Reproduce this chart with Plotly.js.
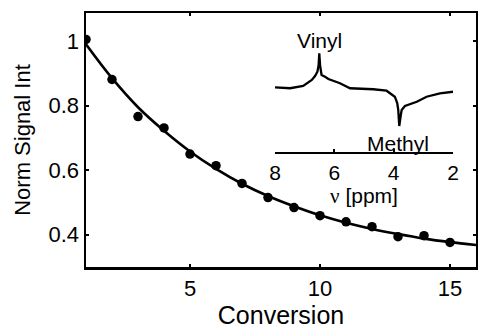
<!DOCTYPE html>
<html>
<head>
<meta charset="utf-8">
<script src="https://cdn.plot.ly/plotly-3.0.1.min.js"></script>
<style>html,body{margin:0;padding:0;background:#fff;}#chart{width:478px;height:329px;}</style>
</head>
<body>
<div id="chart"></div>
<script>
// Measured data points
const conversion = [1,2,3,4,5,6,7,8,9,10,11,12,13,14,15];
const signal = [1.005,0.881,0.766,0.731,0.650,0.614,0.559,0.515,0.484,0.459,0.440,0.425,0.394,0.397,0.376];
// Fit curve
const fitX = [1,2,3,4,5,6,7,8,9,10,11,12,13,14,15,16];
const fitY = [0.99,0.885,0.795,0.722,0.658,0.604,0.558,0.520,0.488,0.460,0.437,0.418,0.402,0.388,0.377,0.368];
// Inset spectrum (ppm, relative intensity)
const ppm = [8.0,7.49,7.05,6.76,6.65,6.57,6.53,6.507,6.48,6.43,6.30,6.20,5.81,5.47,4.69,4.24,3.96,3.88,3.845,3.811,3.76,3.73,3.62,3.22,2.89,2.44,1.99];
const spec = [0.634,0.625,0.647,0.706,0.745,0.787,0.85,0.968,0.85,0.755,0.735,0.716,0.674,0.625,0.615,0.601,0.542,0.48,0.412,0.255,0.36,0.412,0.451,0.493,0.542,0.575,0.591];
const xTicks = [5,10,15];
const yTicks = [0.4,0.6,0.8,1];
const yTickText = ['0.4','0.6','0.8','1'];
const insetTicks = [8,6,4,2];

const font = 'Liberation Sans, Arial, sans-serif';
const traces = [
  {x: fitX, y: fitY, mode: 'lines', line: {color: '#000', width: 2.6, shape: 'spline'}, xaxis: 'x', yaxis: 'y', hoverinfo: 'skip'},
  {x: conversion, y: signal, mode: 'markers', marker: {color: '#000', size: 9.5}, xaxis: 'x', yaxis: 'y'},
  {x: ppm, y: spec, mode: 'lines', line: {color: '#000', width: 2.3}, xaxis: 'x2', yaxis: 'y2'}
];
const layout = {
  width: 478, height: 329,
  margin: {l: 86, r: 2, t: 13, b: 62},
  paper_bgcolor: '#fff', plot_bgcolor: '#fff',
  showlegend: false,
  font: {family: font, size: 20, color: '#000'},
  xaxis: {
    range: [1, 16], domain: [0, 1],
    tickvals: xTicks, ticktext: xTicks.map(String),
    showline: true, linecolor: '#000', linewidth: 2.5, mirror: 'ticks',
    ticks: 'inside', ticklen: 3, tickwidth: 2, tickcolor: '#000',
    showgrid: false, zeroline: false,
    tickfont: {family: font, size: 22},
    title: {text: 'Conversion', font: {family: font, size: 25}, standoff: 10},
    automargin: false
  },
  yaxis: {
    range: [0.30, 1.087], domain: [0, 1],
    tickvals: yTicks, ticktext: yTickText,
    showline: true, linecolor: '#000', linewidth: 2.5, mirror: 'ticks',
    ticks: 'inside', ticklen: 3, tickwidth: 2, tickcolor: '#000',
    showgrid: false, zeroline: false,
    tickfont: {family: font, size: 22},
    title: {text: 'Norm Signal Int', font: {family: font, size: 22}, standoff: 12},
    automargin: false
  },
  xaxis2: {
    anchor: 'y2', domain: [0.4846, 0.941], range: [8, 2],
    tickvals: insetTicks, ticktext: insetTicks.map(String),
    showline: true, linecolor: '#000', linewidth: 2.5,
    ticks: 'inside', ticklen: 3, tickwidth: 2, tickcolor: '#000',
    showgrid: false, zeroline: false,
    tickfont: {family: font, size: 21},
    title: {text: '<span style="font-family:Liberation Serif, Times New Roman, serif">ν</span> [ppm]', font: {family: font, size: 21}, standoff: 0},
    automargin: false
  },
  yaxis2: {
    anchor: 'x2', domain: [0.4528, 0.8543], range: [0, 1], visible: false
  },
  annotations: [
    {x: 6.5, y: 0.89, xref: 'x2', yref: 'paper', text: 'Vinyl', showarrow: false, font: {family: font, size: 21}, xanchor: 'center', yanchor: 'middle'},
    {x: 3.85, y: 0.488, xref: 'x2', yref: 'paper', text: 'Methyl', showarrow: false, font: {family: font, size: 21}, xanchor: 'center', yanchor: 'middle'}
  ]
};
Plotly.newPlot('chart', traces, layout, {displayModeBar: false, staticPlot: true});
</script>
</body>
</html>
